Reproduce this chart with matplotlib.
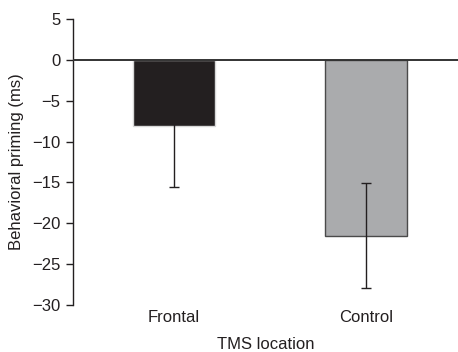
import numpy as np
import matplotlib.pyplot as plt

plt.rcParams['font.family'] = ['Liberation Sans', 'DejaVu Sans']

locations = ['Frontal', 'Control']
priming = [-8.1, -21.5]
sem = [7.5, 6.4]
bar_colors = ['#231f20', '#aaabad']
edge_colors = ['#d8d8d8', '#4a4a4a']

fig = plt.figure(figsize=(4.58, 3.52), dpi=100)
ax = fig.add_axes([0.159, 0.1335, 0.841, 0.8125])

x = np.arange(len(locations))
ax.bar(x, priming, width=0.427, color=bar_colors, edgecolor=edge_colors,
       linewidth=1.0, zorder=2)
ax.errorbar(x, priming, yerr=sem, fmt='none', ecolor='#231f20',
            elinewidth=1.0, capsize=3.3, capthick=1.0, zorder=3)
ax.axhline(0, color='#333333', linewidth=1.4, zorder=4)

ax.set_xlim(-0.526, 1.479)
ax.set_ylim(-30, 5)
ax.set_yticks(np.arange(-30, 6, 5))
ax.set_yticklabels([str(v).replace('-', '\u2212') for v in range(-30, 6, 5)])
ax.set_xticks(x)
ax.set_xticklabels(locations)

for s in ['top', 'right', 'bottom']:
    ax.spines[s].set_visible(False)
ax.spines['left'].set_color('#231f20')
ax.spines['left'].set_linewidth(1.0)
ax.tick_params(axis='x', length=0, pad=3.5, labelsize=12, colors='#231f20')
ax.tick_params(axis='y', length=5, width=1.0, pad=4, labelsize=12,
               colors='#231f20')

ax.set_xlabel('TMS location', fontsize=12, color='#231f20', labelpad=9)
ax.set_ylabel('Behavioral priming (ms)', fontsize=12, color='#231f20',
              labelpad=6)

fig.savefig('out.png', dpi=100)
